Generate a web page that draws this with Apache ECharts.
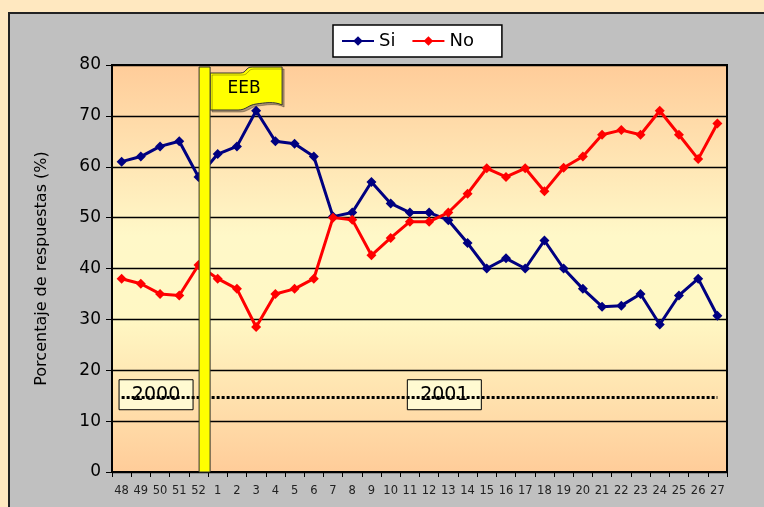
<!DOCTYPE html>
<html>
<head>
<meta charset="utf-8">
<script src="https://cdn.jsdelivr.net/npm/echarts@6/dist/echarts.min.js"></script>
<style>
  html, body { margin: 0; padding: 0; background: #C0C0C0; overflow: hidden; }
  #wrap { position: relative; width: 764px; height: 507px; background: #C0C0C0; overflow: hidden; }
  .strip { position: absolute; background: #FFE8C0; }
  .edge { position: absolute; background: #222; }
  #chart { position: absolute; left: 0; top: 0; width: 764px; height: 507px; }
</style>
</head>
<body>
<div id="wrap">
  <div class="strip" style="left:0;top:0;width:764px;height:12px"></div>
  <div class="strip" style="left:0;top:0;width:8px;height:507px"></div>
  <div class="edge" style="left:8px;top:12px;width:756px;height:2px"></div>
  <div class="edge" style="left:8px;top:12px;width:2px;height:495px"></div>
  <div id="chart"></div>
</div>
<script>
// semanas (2000: 48-52, 2001: 1-27)
const weeks = ['48', '49', '50', '51', '52', '1', '2', '3', '4', '5', '6', '7', '8', '9', '10', '11',
    '12', '13', '14', '15', '16', '17', '18', '19', '20', '21', '22', '23', '24', '25', '26', '27'];
const siValues = [61, 62, 64, 65, 58, 62.5, 64, 71, 65, 64.5, 62, 50.2, 51, 57, 52.8, 51,
    51, 49.5, 45, 40, 42, 40, 45.5, 40, 36, 32.5, 32.7, 35, 29, 34.7, 38, 30.7];
const noValues = [38, 37, 35, 34.7, 40.7, 38, 36, 28.5, 35, 36, 38, 50, 49.6, 42.6, 46, 49.2,
    49.2, 51, 54.7, 59.7, 58, 59.7, 55.2, 59.8, 62, 66.3, 67.2, 66.3, 71, 66.3, 61.5, 68.5];
const yearLineValue = 14.6;
const yearLabels = [['2000', '50'], ['2001', '13']];

const FONT = 'Tahoma, "DejaVu Sans", sans-serif';
const chart = echarts.init(document.getElementById('chart'));

const option = {
    animation: false,
    backgroundColor: 'transparent',
    textStyle: { fontFamily: FONT },
    grid: {
        left: 112, right: 37, top: 65, bottom: 35,
        show: true,
        borderColor: '#000',
        borderWidth: 2,
        backgroundColor: {
            type: 'linear', x: 0, y: 0, x2: 0, y2: 1,
            colorStops: [
                { offset: 0, color: '#FFCC99' },
                { offset: 0.42, color: '#FFF8C8' },
                { offset: 0.62, color: '#FFF8C4' },
                { offset: 1, color: '#FFCC99' },
            ],
        },
    },
    legend: {
        top: 25,
        left: 333,
        padding: [7, 28, 7, 8],
        backgroundColor: '#fff',
        borderColor: '#000',
        borderWidth: 1.5,
        itemWidth: 32,
        itemHeight: 12,
        itemGap: 16,
        textStyle: { fontSize: 18, color: '#000', fontFamily: FONT },
        data: ['Si', 'No'],
    },
    xAxis: {
        type: 'category',
        data: weeks,
        boundaryGap: true,
        axisLine: { lineStyle: { color: '#000', width: 2 } },
        axisTick: { show: true, length: 5, interval: 0, lineStyle: { color: '#000' } },
        axisLabel: { interval: 0, fontSize: 11.5, color: '#222', margin: 13 },
    },
    yAxis: {
        type: 'value',
        min: 0,
        max: 80,
        interval: 10,
        name: 'Porcentaje de respuestas (%)',
        nameLocation: 'middle',
        nameGap: 62,
        nameTextStyle: { fontSize: 16, color: '#000' },
        axisLine: { show: true, lineStyle: { color: '#000', width: 2 } },
        axisTick: { show: true, length: 6, lineStyle: { color: '#000' } },
        axisLabel: { fontSize: 17, color: '#000', margin: 11 },
        splitLine: { lineStyle: { color: '#000', width: 1.3 } },
    },
    series: [
        {
            name: 'Si',
            type: 'line',
            data: siValues,
            color: '#000080',
            symbol: 'diamond',
            symbolSize: 10,
            lineStyle: { width: 3 },
            z: 3,
        },
        {
            name: 'No',
            type: 'line',
            data: noValues,
            color: '#FF0000',
            symbol: 'diamond',
            symbolSize: 10,
            lineStyle: { width: 3 },
            z: 4,
            markLine: {
                silent: true,
                symbol: 'none',
                label: { show: false },
                lineStyle: { color: '#000', width: 3, type: [3, 2] },
                data: [[
                    { coord: [weeks[0], yearLineValue] },
                    { coord: [weeks[weeks.length - 1], yearLineValue] },
                ]],
            },
        },
    ],
};
chart.setOption(option);

// anotaciones: cajas de año y bandera EEB
const graphics = [];
yearLabels.forEach(([txt, week]) => {
    const p = chart.convertToPixel({ xAxisIndex: 0, yAxisIndex: 0 }, [week, yearLineValue]);
    const w = 74, h = 30;
    graphics.push({
        type: 'group',
        x: p[0] - 4 - w / 2,
        y: p[1] - h / 2 - 3,
        z: 50,
        children: [
            { type: 'rect', shape: { x: 0, y: 0, width: w, height: h },
              style: { fill: '#FFFAD2', stroke: '#000', lineWidth: 1 } },
            { type: 'text', x: w / 2, y: h / 2,
              style: { text: txt, fontSize: 19, fontFamily: FONT, fill: '#000', align: 'center', verticalAlign: 'middle' } },
        ],
    });
});

// forma ondulada de la bandera (curvas muestreadas)
function bez(p0, p1, p2, p3, n) {
    const pts = [];
    for (let i = 1; i <= n; i++) {
        const t = i / n, u = 1 - t;
        pts.push([
            u * u * u * p0[0] + 3 * u * u * t * p1[0] + 3 * u * t * t * p2[0] + t * t * t * p3[0],
            u * u * u * p0[1] + 3 * u * u * t * p1[1] + 3 * u * t * t * p2[1] + t * t * t * p3[1],
        ]);
    }
    return pts;
}
const flagPts = [[0, 6], [30, 6]]
    .concat(bez([30, 6], [37, 6], [35, 0], [42, 0], 8))
    .concat([[72, 0], [72, 38]])
    .concat(bez([72, 38], [64, 34], [54, 36], [46, 37], 8))
    .concat(bez([46, 37], [38, 38], [36, 43], [28, 43], 8))
    .concat([[0, 43]]);

const xa = chart.convertToPixel({ xAxisIndex: 0 }, '52');
const xb = chart.convertToPixel({ xAxisIndex: 0 }, '1');
const poleX = (xa + xb) / 2 - 9;
const poleTop = chart.convertToPixel({ yAxisIndex: 0 }, 80) + 2;
const poleBottom = chart.convertToPixel({ yAxisIndex: 0 }, 0);
graphics.push({
    type: 'rect', z: 60,
    shape: { x: poleX, y: poleTop, width: 11, height: poleBottom - poleTop },
    style: { fill: '#FFFF00', stroke: '#333', lineWidth: 1 },
});
graphics.push({
    type: 'group', x: poleX + 11, y: poleTop, z: 60,
    children: [
        { type: 'polygon',
          shape: { points: flagPts },
          style: { fill: '#FFFF00', stroke: '#333', lineWidth: 1, shadowColor: 'rgba(0,0,0,0.3)', shadowOffsetX: 2, shadowOffsetY: 2 } },
        { type: 'text', x: 34, y: 22,
          style: { text: 'EEB', fontSize: 17, fontFamily: FONT, fill: '#000', align: 'center', verticalAlign: 'middle' } },
    ],
});
chart.setOption({ graphic: graphics });
</script>
</body>
</html>
